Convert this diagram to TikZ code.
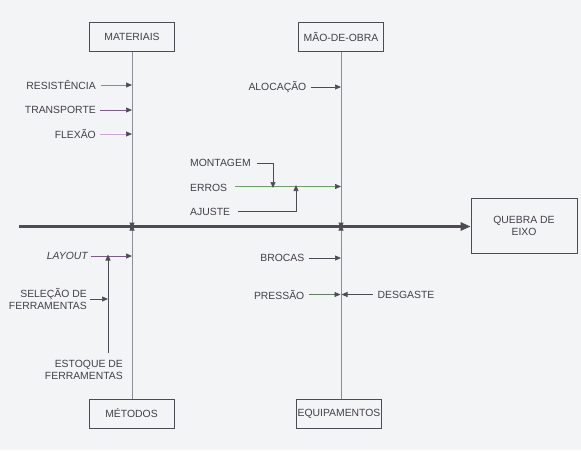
\documentclass[tikz,border=0pt]{standalone}
\usepackage{fontspec}
\setmainfont{Liberation Sans}
\usetikzlibrary{arrows.meta}
\definecolor{bg}{HTML}{F3F4F6}
\definecolor{txt}{HTML}{433F48}
\definecolor{bonec}{HTML}{8E8C9A}
\definecolor{arrc}{HTML}{4E4B55}
\definecolor{grn}{HTML}{6FA06A}
\definecolor{pur}{HTML}{7E5A8C}
\definecolor{lpur}{HTML}{C9A6D6}
\begin{document}
\begin{tikzpicture}[x=1pt,y=-1pt,
  every node/.style={font=\fontsize{10.4}{12}\selectfont, text=txt},
  cat/.style={draw=arrc, line width=0.6pt, minimum width=85pt, minimum height=29pt, inner sep=0pt},
  lbl/.style={inner sep=0pt, anchor=east, align=right},
  lblw/.style={inner sep=0pt, anchor=west, align=left},
  bone/.style={draw=bonec, line width=1pt},
  tipa/.style={-{Triangle[length=6pt,width=5pt,color=arrc]}},
  arr/.style={draw=arrc, line width=0.7pt, tipa},
  spinest/.style={draw=arrc, line width=2.4pt, -{Triangle[length=10pt,width=8pt]}}
]
\useasboundingbox[fill=bg] (0,0) rectangle (581,450);

% category boxes
\node[cat] (mat) at (132,37) {MATERIAIS};
\node[cat] (mao) at (341,37) {MÃO-DE-OBRA};
\node[cat] (met) at (131.5,413.5) {MÉTODOS};
\node[cat] (equ) at (339,413.5) {EQUIPAMENTOS};
\node[draw=arrc, line width=0.6pt, minimum width=106pt, minimum height=55pt, inner sep=0pt, align=center] (qe) at (524,225.5) {QUEBRA DE\\EIXO};

% spine
\coordinate (tail) at (19,226.5);
\coordinate (s1) at (132,226.5);
\coordinate (s2) at (341,226.5);
\coordinate (b1) at (132,399);
\coordinate (b2) at (341,399);
\draw[spinest] (tail) -- (tail -| qe.west);

% main bones
\draw[bone, tipa] (mat.south) -- ([yshift=-2pt]s1);
\draw[bone, tipa] (s2 |- mao.south) -- ([yshift=-2pt]s2);
\draw[bone, tipa] (b1) -- ([yshift=2pt]s1);
\draw[bone, tipa] (b2) -- ([yshift=2pt]s2);

% MATERIAIS causes
\node[lbl] (res) at (96,85) {RESISTÊNCIA};
\node[lbl] (tra) at (96,110) {TRANSPORTE};
\node[lbl] (fle) at (96,134) {FLEXÃO};
\draw[arr, draw=grn] ([xshift=5pt]res.east) -- (res.east -| s1);
\draw[arr, draw=pur] ([xshift=4pt]tra.east) -- (tra.east -| s1);
\draw[arr, draw=lpur] ([xshift=4pt]fle.east) -- (fle.east -| s1);

% MÃO-DE-OBRA causes
\node[lbl] (alo) at (306.5,87) {ALOCAÇÃO};
\draw[arr] ([xshift=4pt]alo.east) -- (alo.east -| s2);
\node[lblw] (mon) at (190,163) {MONTAGEM};
\node[lblw] (err) at (190,187.5) {ERROS};
\node[lblw] (aju) at (190,211.5) {AJUSTE};
\coordinate (ee) at (235,186.5);
\draw[arr, draw=grn] (ee) -- (ee -| s2);
\coordinate (mk) at (273,163);
\draw[arr] ([xshift=6pt]mon.east) -- (mk) -- ([yshift=-1.5pt]mk |- ee);
\coordinate (ak) at (296,211.5);
\draw[arr] ([xshift=8pt]aju.east) -- (ak) -- ([yshift=1.5pt]ak |- ee);

% MÉTODOS causes
\node[lbl, font=\fontsize{10.4}{12}\selectfont\itshape] (lay) at (88,256) {LAYOUT};
\draw[arr, draw=pur] ([xshift=3pt]lay.east) -- (lay.east -| s1);
\node[lbl] (sel) at (87,299) {SELEÇÃO DE\\FERRAMENTAS};
\coordinate (ek) at (108,353);
\draw[arr] ([xshift=3pt]sel.east) -- (sel.east -| ek);
\node[lbl] (est) at (123,370) {ESTOQUE DE\\FERRAMENTAS};
\draw[arr] (ek) -- ([yshift=1.5pt]ek |- lay.east);

% EQUIPAMENTOS causes
\node[lbl] (bro) at (304.5,258) {BROCAS};
\draw[arr] ([xshift=4pt]bro.east) -- (bro.east -| s2);
\node[lbl] (pre) at (304.5,294.5) {PRESSÃO};
\draw[arr, draw=grn!60!arrc] ([xshift=4pt]pre.east) -- ([xshift=-0.5pt]pre.east -| s2);
\node[lblw] (des) at (377.5,294.5) {DESGASTE};
\draw[arr] ([xshift=-5pt]des.west) -- ([xshift=0.5pt]des.west -| s2);
\end{tikzpicture}
\end{document}
